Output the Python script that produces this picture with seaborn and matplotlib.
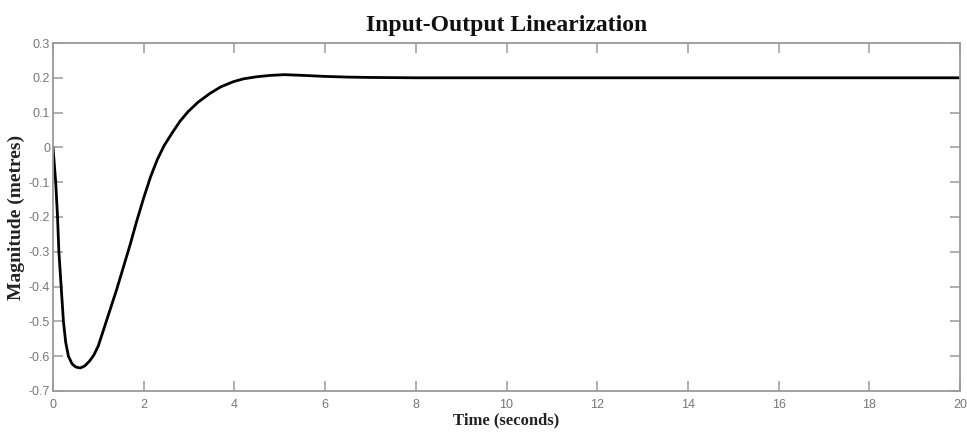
import numpy as np
import pandas as pd
import matplotlib
matplotlib.use("Agg")
import matplotlib.pyplot as plt
import seaborn as sns

# Valores (tiempo en s, magnitud en m)
time_s = [0.0, 0.03, 0.06, 0.10, 0.13, 0.18, 0.23, 0.28, 0.34, 0.42, 0.50,
          0.60, 0.70, 0.80, 0.90, 1.00, 1.10, 1.20, 1.30, 1.40, 1.55, 1.70,
          1.85, 2.00, 2.15, 2.30, 2.45, 2.62, 2.80, 2.98, 3.20, 3.46, 3.70,
          3.98, 4.20, 4.49, 4.80, 5.10, 5.50, 6.00, 6.50, 7.00, 8.00, 10.0,
          14.0, 20.0]
magnitude = [0.0, -0.05, -0.10, -0.20, -0.30, -0.40, -0.50, -0.56, -0.60,
             -0.622, -0.631, -0.634, -0.628, -0.615, -0.597, -0.570, -0.530,
             -0.490, -0.450, -0.410, -0.345, -0.280, -0.210, -0.145, -0.085,
             -0.035, 0.005, 0.040, 0.075, 0.103, 0.130, 0.155, 0.174, 0.189,
             0.197, 0.203, 0.207, 0.209, 0.207, 0.204, 0.202, 0.201, 0.200,
             0.200, 0.200, 0.200]

x_ticks = list(range(0, 21, 2))
y_ticks = [-0.7, -0.6, -0.5, -0.4, -0.3, -0.2, -0.1, 0, 0.1, 0.2, 0.3]
y_tick_labels = ["-0.7", "-0.6", "-0.5", "-0.4", "-0.3", "-0.2", "-0.1",
                 "0", "0.1", "0.2", "0.3"]

df = pd.DataFrame({"t": time_s, "m": magnitude})

sns.set_style("ticks")
plt.rcParams["font.family"] = ["Liberation Sans", "DejaVu Sans"]

fig = plt.figure(figsize=(9.67, 4.37), dpi=100)
ax = fig.add_axes([0.0548, 0.1053, 0.938, 0.7963])

sns.lineplot(data=df, x="t", y="m", ax=ax, color="black", linewidth=2.0)

ax.set_xlim(0, 20)
ax.set_ylim(-0.7, 0.3)
ax.set_xticks(x_ticks)
ax.set_yticks(y_ticks)
ax.set_yticklabels(y_tick_labels)

# Estilo tipo MATLAB: caja gris, ticks hacia dentro en los cuatro lados
spine_col = "#9a9a9a"
for s in ax.spines.values():
    s.set_visible(True)
    s.set_color(spine_col)
    s.set_linewidth(1.3)
ax.tick_params(direction="in", length=7, width=1.1, color=spine_col,
               labelcolor="#777777", labelsize=9,
               top=True, right=True)
ax.tick_params(axis="x", pad=6)
ax.tick_params(axis="y", pad=2)

serif = ["Liberation Serif", "DejaVu Serif"]
ax.set_title("Input-Output Linearization", family=serif, fontweight="bold",
             fontsize=17, pad=9, color="#111111")
ax.set_xlabel("Time (seconds)", family=serif, fontweight="bold",
              fontsize=12, labelpad=1, color="#222222")
ax.set_ylabel("Magnitude (metres)", family=serif, fontweight="bold",
              fontsize=14, labelpad=3, color="#222222")

fig.savefig("out.png", dpi=100)
